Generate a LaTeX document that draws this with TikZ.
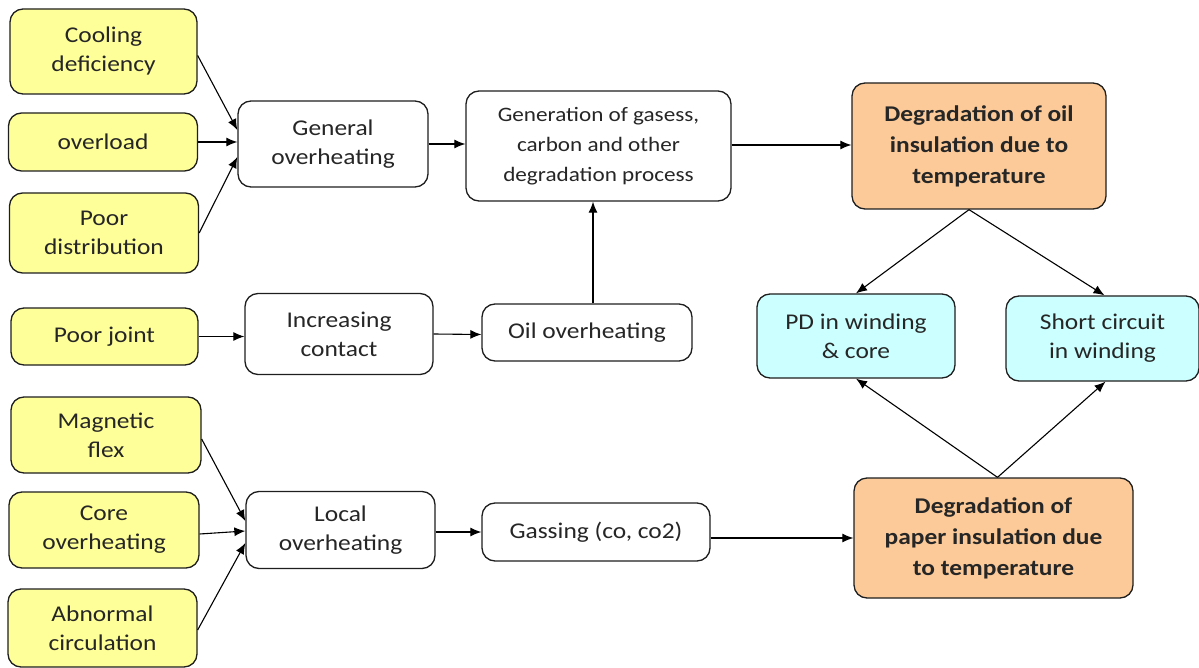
\documentclass[tikz,border=0pt]{standalone}
\usepackage{fontspec}
\setmainfont{Carlito}[FakeStretch=1.13]
\usetikzlibrary{arrows.meta}
\definecolor{yel}{RGB}{255,255,153}
\definecolor{org}{RGB}{251,202,152}
\definecolor{cyn}{RGB}{204,255,255}
\definecolor{edge}{RGB}{30,30,30}
\tikzset{
  box/.style={draw=edge, line width=1.3pt, rounded corners=13pt, align=center, inner sep=0pt,
    font=\fontsize{22.5}{29}\selectfont, text=black!85},
  ybox/.style={box, fill=yel},
  wbox/.style={box, fill=white},
  obox/.style={box, fill=org, font=\fontsize{22.5}{31}\selectfont\bfseries},
  cbox/.style={box, fill=cyn},
  arr/.style={-{Latex[length=11pt,width=9pt]}, line width=1.1pt, draw=black}
}
\begin{document}
\begin{tikzpicture}[x=1pt,y=-1pt]
\useasboundingbox (0,0) rectangle (1199,668);
% left column
\node[ybox, minimum width=187pt, minimum height=85pt] (cool) at (103.5,51.5) {Cooling\\deficiency};
\node[ybox, minimum width=189pt, minimum height=58pt] (over) at (103,142) {overload};
\node[ybox, minimum width=189pt, minimum height=80pt] (dist) at (104,233) {Poor\\distribution};
\node[ybox, minimum width=187pt, minimum height=57pt] (joint) at (104.5,336.5) {Poor joint};
\node[ybox, minimum width=190pt, minimum height=76pt] (mag) at (106,435) {Magnetic\\flex};
\node[ybox, minimum width=190pt, minimum height=76pt] (core) at (104,530) {Core\\overheating};
\node[ybox, minimum width=189pt, minimum height=78pt] (abn) at (102.5,628) {Abnormal\\circulation};
% middle
\node[wbox, minimum width=190pt, minimum height=86pt] (genov) at (333,144) {General\\overheating};
\node[wbox, minimum width=265pt, minimum height=110pt, font=\fontsize{20.5}{30}\selectfont] (gen) at (598.5,146) {Generation of gasess,\\carbon and other\\degradation process};
\node[wbox, minimum width=188pt, minimum height=81pt] (incr) at (339,334) {Increasing\\contact};
\node[wbox, minimum width=210pt, minimum height=57pt] (oilov) at (587,332.5) {Oil overheating};
\node[wbox, minimum width=189pt, minimum height=77pt] (loc) at (340.5,530) {Local\\overheating};
\node[wbox, minimum width=228pt, minimum height=58pt] (gas) at (596,532) {Gassing (co, co2)};
% right
\node[obox, minimum width=254pt, minimum height=126pt] (oild) at (979,146) {Degradation of oil\\insulation due to\\temperature};
\node[cbox, minimum width=198pt, minimum height=84pt] (pd) at (856,336) {PD in winding\\\& core};
\node[cbox, minimum width=193pt, minimum height=85pt] (sc) at (1102.5,338.5) {Short circuit\\in winding};
\node[obox, minimum width=279pt, minimum height=120pt] (paper) at (993.5,538) {Degradation of\\paper insulation due\\to temperature};
% connectors
\draw[arr] ([yshift=-4pt]cool.east) -- ([yshift=14pt]genov.west);
\draw[arr] (over.east) -- (over.east -| genov.west);
\draw[arr] (dist.east) -- ([yshift=-13pt]genov.west);
\draw[arr] (genov.east) -- (genov.east -| gen.west);
\draw[arr] ([yshift=1pt]gen.east) -- ([yshift=1pt]gen.east -| oild.west);
\draw[arr] ([xshift=6pt]oilov.north) -- ([xshift=6pt]oilov.north |- gen.south);
\draw[arr] (joint.east) -- (joint.east -| incr.west);
\draw[arr] (incr.east) -- ([yshift=-2pt]oilov.west);
\draw[arr] ([xshift=-10pt]oild.south) -- (pd.north);
\draw[arr] ([xshift=-10pt]oild.south) -- ([xshift=2pt]sc.north);
\draw[arr] ([xshift=4pt]paper.north) -- (pd.south);
\draw[arr] ([xshift=4pt]paper.north) -- ([xshift=3pt]sc.south);
\draw[arr] ([yshift=-4pt]mag.east) -- ([yshift=9pt]loc.west);
\draw[arr] ([yshift=-4pt]core.east) -- ([yshift=-1pt]loc.west);
\draw[arr] ([yshift=-2pt]abn.east) -- ([yshift=-13pt]loc.west);
\draw[arr] ([yshift=-2pt]loc.east) -- ([yshift=-2pt]loc.east -| gas.west);
\draw[arr] ([yshift=-6pt]gas.east) -- ([yshift=-6pt]gas.east -| paper.west);
\end{tikzpicture}
\end{document}
